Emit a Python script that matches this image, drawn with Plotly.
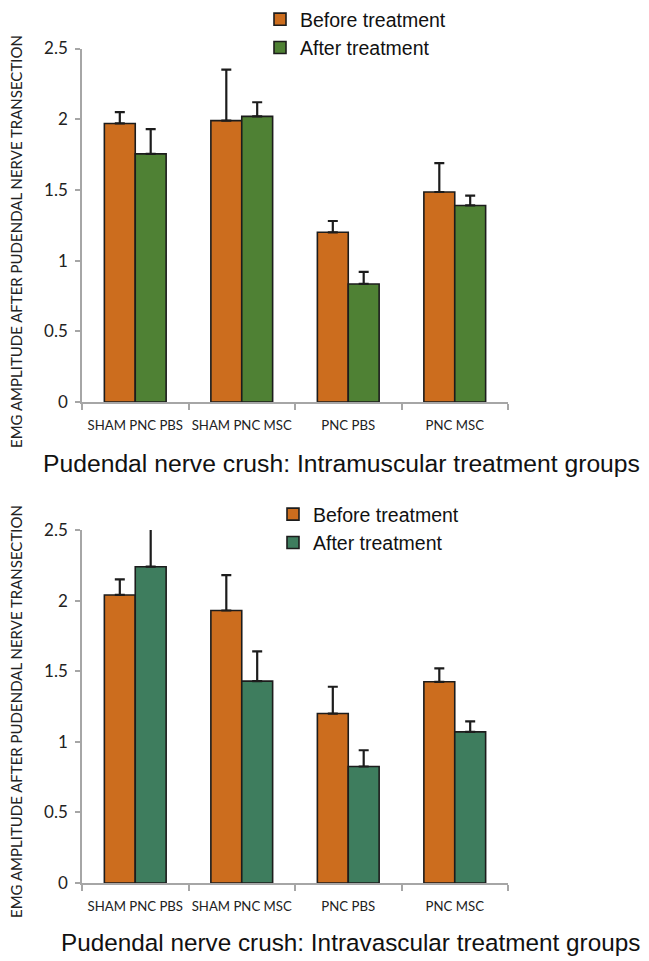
import plotly.graph_objects as go

categories = ["SHAM PNC PBS", "SHAM PNC MSC", "PNC PBS", "PNC MSC"]

# Top panel: intramuscular treatment groups
im_before = [1.97, 1.99, 1.20, 1.485]
im_before_err = [0.08, 0.36, 0.08, 0.205]
im_after = [1.755, 2.02, 0.835, 1.39]
im_after_err = [0.175, 0.10, 0.085, 0.07]

# Bottom panel: intravascular treatment groups
iv_before = [2.04, 1.93, 1.20, 1.425]
iv_before_err = [0.11, 0.25, 0.19, 0.095]
iv_after = [2.24, 1.43, 0.825, 1.07]
iv_after_err = [0.28, 0.21, 0.115, 0.075]

y_ticks = [0, 0.5, 1, 1.5, 2, 2.5]
y_title = "EMG AMPLITUDE AFTER PUDENDAL NERVE TRANSECTION"
top_title = "Pudendal nerve crush: Intramuscular treatment groups"
bottom_title = "Pudendal nerve crush: Intravascular treatment groups"

# page has an 8px body margin, so the figure is slightly smaller than the window
W, H = 641, 953
OFF = 8


def px(x):
    return (x - OFF) / W


def py(y):
    return 1 - (y - OFF) / H


ORANGE = "#CC6D1E"
GREEN_TOP = "#4F8134"
GREEN_BOT = "#3E7D5E"
EDGE = "#1c1c1c"
AXIS = "#a6a6a6"


def bar(name, vals, errs, color, xa, ya, legend):
    return go.Bar(
        x=categories, y=vals, name=name, xaxis=xa, yaxis=ya, legend=legend,
        marker=dict(color=color, line=dict(color=EDGE, width=1.6)),
        error_y=dict(type="data", array=errs, arrayminus=[0] * len(errs),
                     symmetric=False, color=EDGE, thickness=2.2, width=5),
    )


fig = go.Figure()
fig.add_trace(bar("Before treatment", im_before, im_before_err, ORANGE, "x", "y", "legend"))
fig.add_trace(bar("After treatment", im_after, im_after_err, GREEN_TOP, "x", "y", "legend"))
fig.add_trace(bar("Before treatment", iv_before, iv_before_err, ORANGE, "x2", "y2", "legend2"))
fig.add_trace(bar("After treatment", iv_after, iv_after_err, GREEN_BOT, "x2", "y2", "legend2"))

xdom = [px(82), px(508)]
ax_common = dict(
    type="category", domain=xdom, showline=True, linecolor=AXIS, linewidth=1.5,
    ticks="outside", tickson="boundaries", ticklen=6, tickcolor=AXIS, tickwidth=1.5,
    tickangle=0, automargin=False,
    tickfont=dict(family="Lato", size=13.2, color="#222"), ticklabelstandoff=10,
    showgrid=False, zeroline=False, fixedrange=True,
)
ay_common = dict(
    range=[0, 2.5], tickvals=y_ticks,
    ticktext=[str(v) if v != int(v) else str(int(v)) for v in y_ticks],
    showline=True, linecolor=AXIS, linewidth=1.5, ticks="outside", ticklen=5,
    tickcolor=AXIS, tickwidth=1.5, tickfont=dict(family="Lato", size=17, color="#222"),
    ticklabelstandoff=4, showgrid=False, zeroline=False, automargin=False,
)

legend_font = dict(family="Liberation Sans", size=19.5, color="#111")

fig.update_layout(
    width=W, height=H, margin=dict(l=0, r=0, t=0, b=0, autoexpand=False),
    paper_bgcolor="white", plot_bgcolor="white",
    barmode="group", bargap=0.42, bargroupgap=0,
    xaxis=dict(anchor="y", **ax_common),
    yaxis=dict(anchor="x", domain=[py(402), py(48.5)], **ay_common),
    xaxis2=dict(anchor="y2", **ax_common),
    yaxis2=dict(anchor="x2", domain=[py(883), py(530)], **ay_common),
    legend=dict(x=px(260), y=py(0), xanchor="left", yanchor="top",
                font=legend_font, bgcolor="rgba(0,0,0,0)", tracegroupgap=0),
    legend2=dict(x=px(273), y=py(495), xanchor="left", yanchor="top",
                 font=legend_font, bgcolor="rgba(0,0,0,0)", tracegroupgap=0),
    annotations=[
        dict(text=y_title, x=px(16), y=py(242), xref="paper", yref="paper",
             textangle=-90, showarrow=False, xanchor="center", yanchor="middle",
             font=dict(family="Lato", size=15, color="#222")),
        dict(text=y_title, x=px(16), y=py(712), xref="paper", yref="paper",
             textangle=-90, showarrow=False, xanchor="center", yanchor="middle",
             font=dict(family="Lato", size=15, color="#222")),
        dict(text=top_title, x=px(341), y=py(463), xref="paper", yref="paper",
             showarrow=False, xanchor="center", yanchor="middle",
             font=dict(family="Liberation Sans", size=24.7, color="#111")),
        dict(text=bottom_title, x=px(350), y=py(942), xref="paper", yref="paper",
             showarrow=False, xanchor="center", yanchor="middle",
             font=dict(family="Liberation Sans", size=24.3, color="#111")),
    ],
)

fig.write_html("out.html")
